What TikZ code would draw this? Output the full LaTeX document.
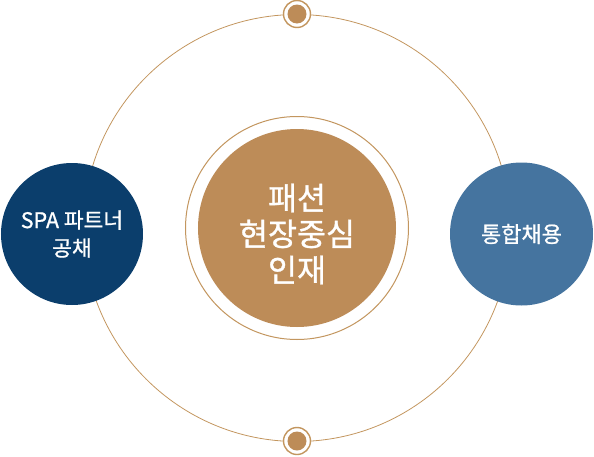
\documentclass[tikz,border=0pt]{standalone}
\usepackage{fontspec}
\usepackage{xcolor}
\usetikzlibrary{positioning,calc}
\newfontfamily\kor[FakeBold=0.9]{Noto Sans CJK KR}
\definecolor{oro}{HTML}{C3965F}
\definecolor{oroFondo}{HTML}{BD8C58}
\definecolor{marino}{HTML}{0B3E6C}
\definecolor{acero}{HTML}{45749F}

\begin{document}
\begin{tikzpicture}[x=1pt,y=1pt,
    bola/.style={circle,inner sep=0pt,align=center,text=white,
                 font=\kor\fontsize{21.5}{28}\selectfont},
    punto/.style={circle,draw=oro,line width=1.4pt,fill=white,
                  minimum size=27pt,inner sep=0pt}]
  \useasboundingbox (-297,-228) rectangle (297,228);
  \draw[oro,line width=0.8pt] (0,0) circle (213.5);
  \node[circle,draw=oro,line width=1pt,fill=white,minimum size=223pt,inner sep=0pt] (anillo) at (0,0) {};
  \node[circle,fill=oroFondo,minimum size=198pt,inner sep=0pt] (centro) at (0,0) {};
  \node[align=center,text=white,font=\kor\fontsize{31.5}{36}\selectfont] (centroTxt)
    at ($(centro.center)+(0,-6)$) {패션\\현장중심\\인재};
  \node[bola,fill=marino,minimum size=142pt] (izq) at (-225,-6) {SPA 파트너\\공채};
  \node[bola,fill=acero,minimum size=143pt,font=\kor\fontsize{22}{28}\selectfont] (der) at (224.5,-6) {통합채용};
  \draw[oro,line width=0.8pt] ($(izq.east)+(0,1)$) -- ($(izq.east)+(0,1)$ -| anillo.west);
  \draw[oro,line width=0.8pt] ($(der.west)+(0,1)$) -- ($(der.west)+(0,1)$ -| anillo.east);
  % puntos arriba y abajo
  \foreach \n/\y in {arriba/214,abajo/-213}{
    \node[punto] (\n) at (0,\y) {};
    \fill[oroFondo] (\n.center) circle (9.5);
  }
\end{tikzpicture}
\end{document}
